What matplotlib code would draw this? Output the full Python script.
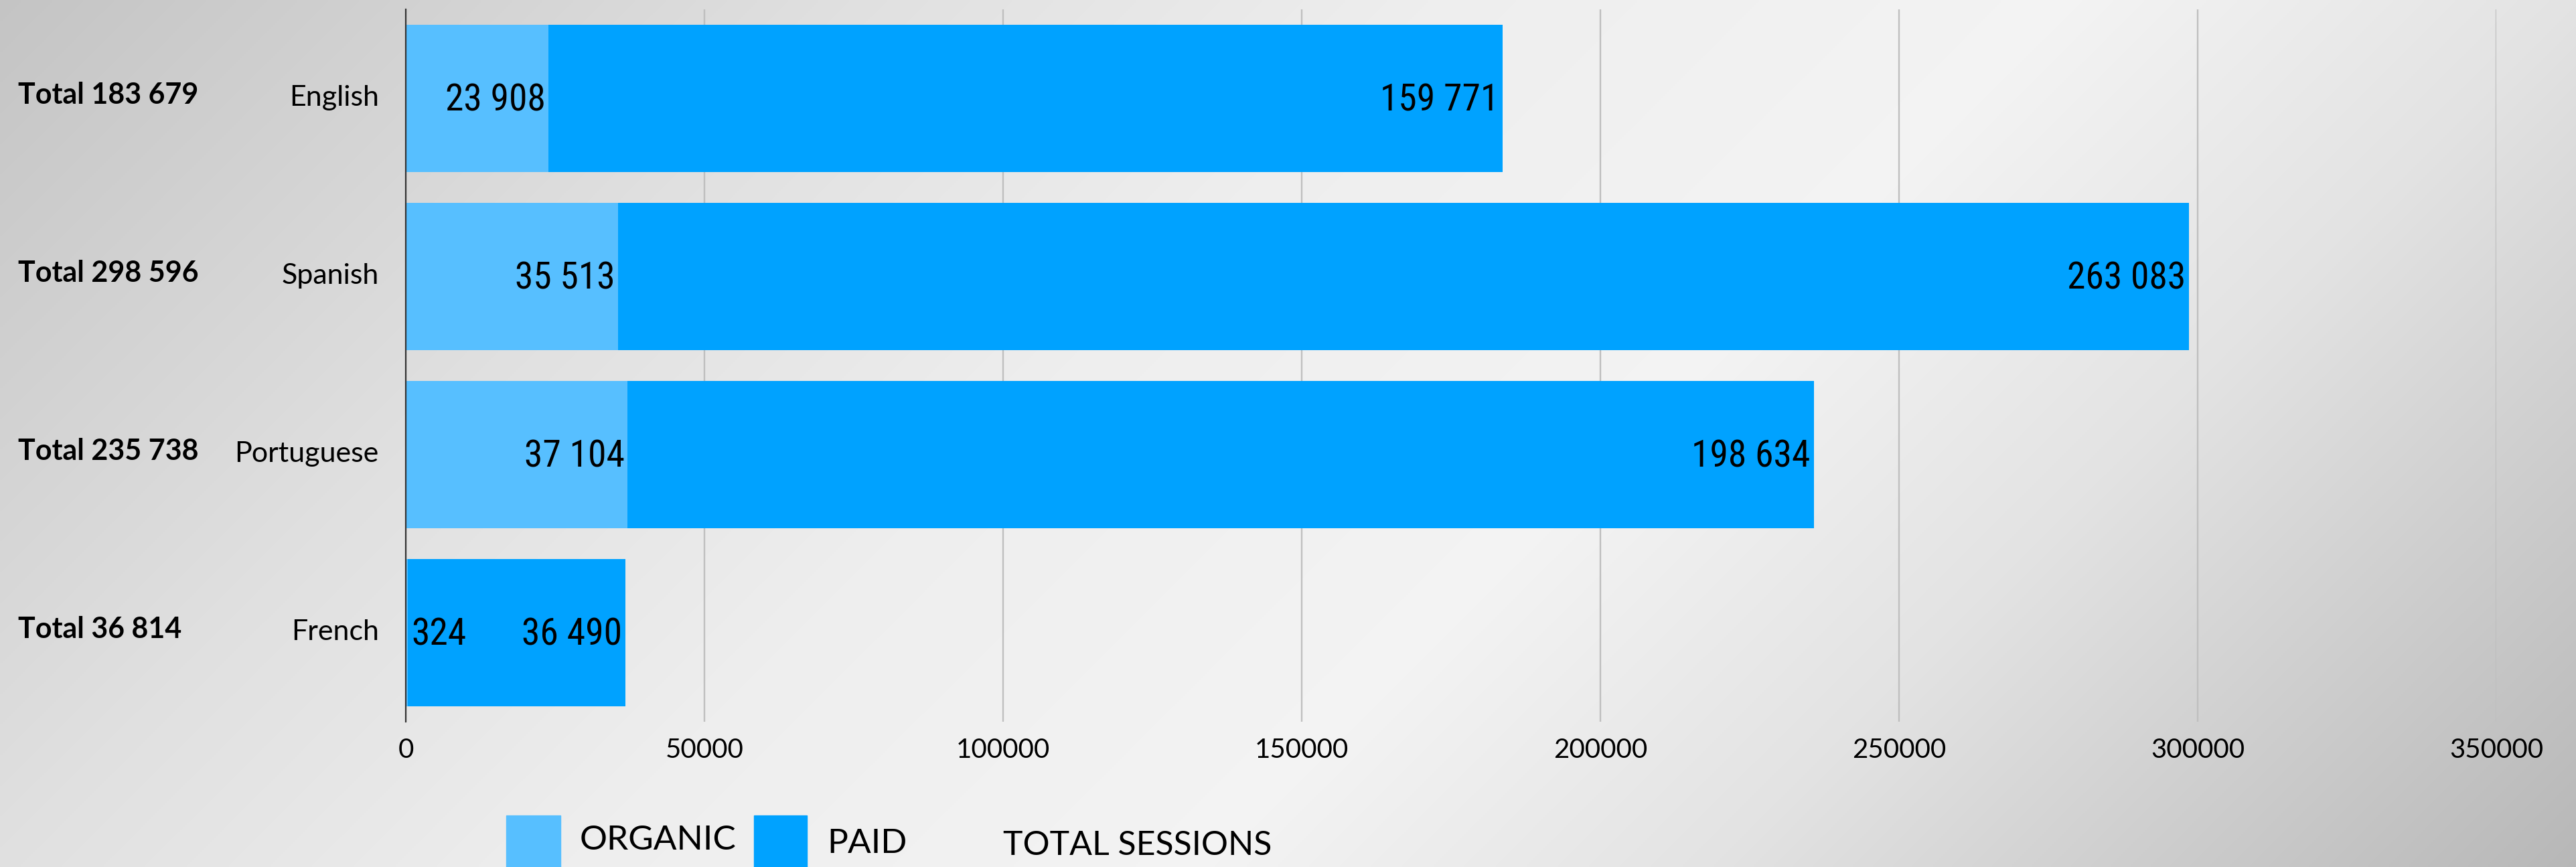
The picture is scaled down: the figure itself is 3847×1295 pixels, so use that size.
import numpy as np
import matplotlib
matplotlib.use("Agg")
import matplotlib.pyplot as plt
from matplotlib.patches import Rectangle
import matplotlib.transforms as mtransforms
from matplotlib import font_manager as fm

# Sessions by site language
languages = ["English", "Spanish", "Portuguese", "French"]
organic = [23908, 35513, 37104, 324]
paid = [159771, 263083, 198634, 36490]
x_ticks = [0, 50000, 100000, 150000, 200000, 250000, 300000, 350000]
legend_labels = ["ORGANIC", "PAID", "TOTAL SESSIONS"]

ORGANIC_C = "#57BFFF"
PAID_C = "#00A2FF"
SANS = "Lato"


def pick_narrow_font():
    """Find a regular-weight narrow sans for the value labels."""
    prefs = [("Liberation Sans Narrow", 43), ("Roboto Condensed", 40),
             ("DejaVu Sans Condensed", 34), ("Open Sans Condensed", 40)]
    fonts = [f for f in fm.fontManager.ttflist
             if f.style == "normal" and f.weight in (400, "normal", "regular", "book")]
    for name, size in prefs:
        for f in fonts:
            if f.name == name:
                return fm.FontProperties(fname=f.fname), size
    for name, size in [("Roboto", 40), ("DejaVu Sans", 34)]:
        for f in fonts:
            if f.name == name and f.stretch in ("condensed", "semi-condensed"):
                return fm.FontProperties(fname=f.fname), size
    return fm.FontProperties(family="Liberation Sans"), 35


NARROW_FP, NARROW_SIZE = pick_narrow_font()
NARROW_FP.set_size(NARROW_SIZE)


def fmt(v):
    return f"{v:,}".replace(",", " ")


W, H = 3848, 1295
fig = plt.figure(figsize=(W / 100, H / 100), dpi=100)

# Diagonal grey-white-grey background
bg = fig.add_axes([0, 0, 1, 1], zorder=-10)
gx = np.linspace(0, W, 770)
gy = np.linspace(0, H, 260)
XX, YY = np.meshgrid(gx, gy)
d = (XX + YY) / (W + H)
shade = np.interp(d, [0.0, 0.25, 0.42, 0.6, 0.75, 1.0],
                  [0.77, 0.88, 0.935, 0.955, 0.89, 0.72])
bg.imshow(np.dstack([shade] * 3), aspect="auto", extent=[0, 1, 0, 1],
          interpolation="bilinear", origin="upper")
bg.set_axis_off()

ax = fig.add_axes([606 / W, (H - 1078) / H, (3728 - 606) / W, 1064 / H])
ax.patch.set_alpha(0)

y = np.arange(len(languages))
bar_h = 0.825
ax.barh(y, organic, height=bar_h, color=ORGANIC_C, zorder=3)
ax.barh(y, paid, left=organic, height=bar_h, color=PAID_C, zorder=3)

ax.set_xlim(0, 350000)
ax.set_ylim(len(languages) - 0.5, -0.5)
ax.set_xticks(x_ticks)
ax.set_xticklabels([str(t) for t in x_ticks], fontsize=29, family=SANS)
ax.set_yticks(y)
ax.set_yticklabels(languages, fontsize=31, family=SANS)
ax.tick_params(axis="x", length=0, pad=17)
ax.tick_params(axis="y", length=0, pad=29)
# nudge the language names up slightly
nudge = mtransforms.ScaledTranslation(0, 3.5 / 72, fig.dpi_scale_trans)
for lab in ax.get_yticklabels():
    lab.set_transform(lab.get_transform() + nudge)
ax.xaxis.grid(True, color="#BFBFBF", linewidth=1.7, zorder=0)
ax.set_axisbelow(True)
for s in ["top", "right", "bottom"]:
    ax.spines[s].set_visible(False)
ax.spines["left"].set_color("#333333")
ax.spines["left"].set_linewidth(1.6)
ax.spines["left"].set_zorder(4)

# Value labels at the inside end of each segment
for i in range(len(languages)):
    o, p = organic[i], paid[i]
    if o > 5000:
        ax.annotate(fmt(o), xy=(o, i), xytext=(-3, -2), textcoords="offset points",
                    ha="right", va="center", fontproperties=NARROW_FP, zorder=5)
    else:
        ax.annotate(fmt(o), xy=(0, i), xytext=(6, -2), textcoords="offset points",
                    ha="left", va="center", fontproperties=NARROW_FP, zorder=5)
    ax.annotate(fmt(p), xy=(o + p, i), xytext=(-4, -2), textcoords="offset points",
                ha="right", va="center", fontproperties=NARROW_FP, zorder=5)

# Row totals at the far left
trans = mtransforms.blended_transform_factory(fig.transFigure, ax.transData)
for i in range(len(languages)):
    total = organic[i] + paid[i]
    ax.text(27 / W, i - 0.02, f"Total {fmt(total)}", transform=trans,
            ha="left", va="center", fontsize=31, fontweight="bold", family=SANS)

# Legend row along the bottom edge
fig.patches.append(Rectangle((756 / W, 0), 81 / W, 77 / H, transform=fig.transFigure,
                             color=ORGANIC_C, zorder=5))
fig.patches.append(Rectangle((1126 / W, 0), 79 / W, 77 / H, transform=fig.transFigure,
                             color=PAID_C, zorder=5))
fig.text(866 / W, (H - 1269) / H, legend_labels[0], fontsize=37, family=SANS, va="baseline")
fig.text(1235 / W, (H - 1274) / H, legend_labels[1], fontsize=37, family=SANS, va="baseline")
fig.text(1498 / W, (H - 1277) / H, legend_labels[2], fontsize=36, family=SANS, va="baseline")

fig.savefig("out.png", dpi=100)
